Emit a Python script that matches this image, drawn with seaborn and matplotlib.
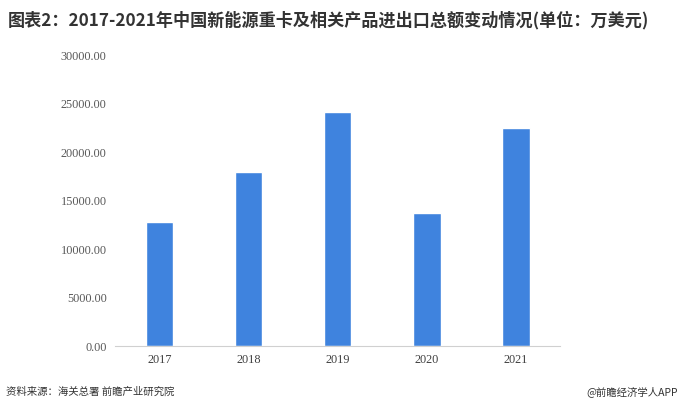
import matplotlib
matplotlib.use("Agg")
import matplotlib.pyplot as plt
import seaborn as sns
import pandas as pd

years = ["2017", "2018", "2019", "2020", "2021"]
values = [12780, 17940, 24120, 13710, 22470]
yticks = [0, 5000, 10000, 15000, 20000, 25000, 30000]

title = "图表2：2017-2021年中国新能源重卡及相关产品进出口总额变动情况(单位：万美元)"
source = "资料来源：海关总署 前瞻产业研究院"
credit = "@前瞻经济学人APP"

sns.set_style("white")
plt.rcParams['font.family'] = ['Noto Sans CJK SC', 'DejaVu Sans']

df = pd.DataFrame({"year": years, "value": values})

fig = plt.figure(figsize=(6.8, 4.11), dpi=100)
ax = fig.add_axes([0.169, 0.158, 0.655, 0.708])
sns.barplot(data=df, x="year", y="value", color="#3F83DE", saturation=1,
            width=0.31, ax=ax)

ax.set_xlim(-0.5, 4.5)
ax.set_ylim(0, 30000)
ax.set_yticks(yticks)
ax.set_yticklabels([f"{v:.2f}" for v in yticks], family="Liberation Serif",
                   fontsize=8.8, color="#595959")
ax.set_xticklabels(years, family="Liberation Serif", fontsize=8.8, color="#404040")
ax.tick_params(axis="both", length=0, pad=6)
ax.set_xlabel("")
ax.set_ylabel("")
for s in ["top", "right", "left"]:
    ax.spines[s].set_visible(False)
ax.spines["bottom"].set_color("#d0d0d0")
ax.spines["bottom"].set_linewidth(0.8)

fig.text(0.012, 0.951, title, fontsize=12.3, fontweight="bold", color="#333333",
         va="center", ha="left")
fig.text(0.009, 0.048, source, fontsize=7.5, color="#333333", va="center", ha="left")
fig.text(0.997, 0.048, credit, fontsize=7.5, color="#333333", va="center", ha="right")

fig.savefig("out.png", dpi=100)
